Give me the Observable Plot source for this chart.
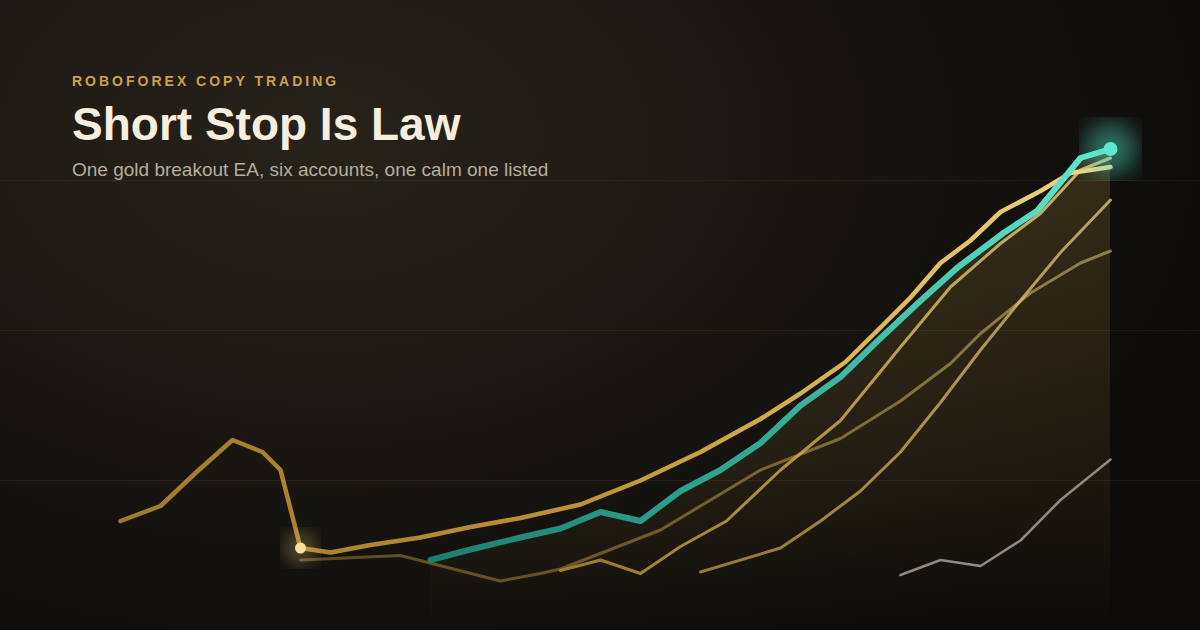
<!DOCTYPE html>
<html>
<head>
<meta charset="utf-8">
<script src="https://cdn.jsdelivr.net/npm/d3@7"></script>
<script src="https://cdn.jsdelivr.net/npm/@observablehq/plot@0.6"></script>
<style>
  html, body { margin: 0; padding: 0; background: #0c0b0a; }
  #wrap {
    position: relative; width: 1200px; height: 630px; overflow: hidden;
    background: radial-gradient(ellipse 950px 620px at 27% 22%, #27221a 0%, #1d1914 40%, #13110e 70%, #0c0b0a 100%);
    font-family: "Liberation Sans", Arial, Helvetica, sans-serif;
  }
  #chart { position: absolute; left: 0; top: 0; }
  .kicker { position: absolute; left: 72px; top: 74px; font-size: 14px; line-height: 14px; font-weight: 700; letter-spacing: 3px; color: #c9a24b; margin: 0; }
  .title { position: absolute; left: 72px; top: 101px; font-size: 46px; line-height: 46px; font-weight: 700; color: #f6efdf; margin: 0; }
  .subtitle { position: absolute; left: 72px; top: 160px; font-size: 19px; line-height: 19px; color: #b5ad9e; margin: 0; }
</style>
</head>
<body>
<div id="wrap">
  <div id="chart"></div>
  <div class="kicker">ROBOFOREX COPY TRADING</div>
  <div class="title">Short Stop Is Law</div>
  <div class="subtitle">One gold breakout EA, six accounts, one calm one listed</div>
</div>
<script>
// Weeks since start (x) and account growth in % (y)
const gridValues = [0, 100, 200];

const mainWeeks  = [0, 4, 7.5, 11.2, 14.2, 16, 18, 21, 25, 30, 35, 40, 46, 52, 58, 64, 68, 72.5, 76, 79, 82, 85, 88, 92, 95, 99];
const mainGrowth = [-27, -17, 5, 27, 19, 7, -45, -48, -43, -38, -31, -25, -16, 0, 19, 41, 58, 79, 102, 122, 145, 160, 179, 193, 205, 209];

const calmWeeks  = [31, 35, 40, 44, 48, 52, 56, 60, 64, 68, 72, 75.7, 79.7, 83.7, 88.3, 91.7, 96, 99];
const calmGrowth = [-53, -46, -38, -32, -21, -27, -7, 7, 25, 50, 69, 93, 118, 142, 165, 180, 215, 221];

const accAWeeks  = [18, 28, 38, 42, 44, 54, 64, 72, 78, 83, 86, 91, 96, 99];
const accAGrowth = [-53, -50, -67, -62, -59, -33, 7, 28, 53, 78, 98, 125, 145, 153];

const accBWeeks  = [44, 48, 52, 56, 60.6, 66, 72, 78, 83, 88, 92, 96, 99];
const accBGrowth = [-60, -53, -62, -44, -27, 7, 40, 89, 129, 158, 178, 207, 215];

const accCWeeks  = [58, 66, 70, 74, 78, 82, 86, 90, 94, 99];
const accCGrowth = [-61, -45, -27, -7, 19, 52, 87, 120, 152, 187];

const accDWeeks  = [78, 82, 86, 90, 94, 99];
const accDGrowth = [-63, -53, -57, -40, -13, 14];

const rows = (xs, ys) => xs.map((x, i) => ({x, y: ys[i]}));
const main = rows(mainWeeks, mainGrowth);
const calm = rows(calmWeeks, calmGrowth);
const accA = rows(accAWeeks, accAGrowth);
const accB = rows(accBWeeks, accBGrowth);
const accC = rows(accCWeeks, accCGrowth);
const accD = rows(accDWeeks, accDGrowth);

const lowPoint = main[6];
const calmEnd = calm[calm.length - 1];

const GLOW_GOLD = "#f3d37b";
const GLOW_TEAL = "#4fe0c5";

const chart = Plot.plot({
  width: 1200,
  height: 630,
  margin: 0,
  x: {domain: [-12, 108], axis: null},
  y: {domain: [-100, 320], axis: null},
  style: {background: "transparent", overflow: "visible"},
  marks: [
    Plot.ruleY(gridValues, {stroke: "#c8a35a", strokeOpacity: 0.09, strokeWidth: 1}),
    Plot.areaY(calm, {x: "x", y1: -100, y2: "y", fill: "url(#areaGrad)"}),
    Plot.line(accD, {x: "x", y: "y", stroke: "#8f897f", strokeWidth: 2.5}),
    Plot.line(accA, {x: "x", y: "y", stroke: "url(#goldGrad)", strokeWidth: 3, strokeOpacity: 0.5}),
    Plot.line(accC, {x: "x", y: "y", stroke: "url(#goldGrad)", strokeWidth: 3, strokeOpacity: 0.7}),
    Plot.line(accB, {x: "x", y: "y", stroke: "url(#goldGrad)", strokeWidth: 3, strokeOpacity: 0.8}),
    Plot.line(main, {x: "x", y: "y", stroke: "url(#goldGrad)", strokeWidth: 4.5}),
    Plot.line(calm, {x: "x", y: "y", stroke: "url(#tealGrad)", strokeWidth: 6}),
    Plot.dot([lowPoint], {x: "x", y: "y", r: 17, fill: GLOW_GOLD, fillOpacity: 0.25}),
    Plot.dot([calmEnd], {x: "x", y: "y", r: 26, fill: GLOW_TEAL, fillOpacity: 0.45}),
    Plot.dot([lowPoint], {x: "x", y: "y", r: 5.5, fill: "#f8e09c"}),
    Plot.dot([calmEnd], {x: "x", y: "y", r: 7, fill: "#5fe6cd"})
  ]
});

const sx = chart.scale("x"), sy = chart.scale("y");
const svg = d3.select(chart.tagName.toLowerCase() === "svg" ? chart : chart.querySelector("svg"));
const defs = svg.insert("defs", ":first-child");

const gold = defs.append("linearGradient").attr("id", "goldGrad").attr("gradientUnits", "userSpaceOnUse")
  .attr("x1", sx.apply(0)).attr("x2", sx.apply(99)).attr("y1", 0).attr("y2", 0);
[[0, "#a07a2b"], [0.45, "#bb9133"], [0.8, "#dfbd5e"], [1, "#f0d689"]].forEach(([o, c]) =>
  gold.append("stop").attr("offset", o).attr("stop-color", c));

const teal = defs.append("linearGradient").attr("id", "tealGrad").attr("gradientUnits", "userSpaceOnUse")
  .attr("x1", sx.apply(31)).attr("x2", sx.apply(99)).attr("y1", 0).attr("y2", 0);
[[0, "#1b7e6f"], [0.5, "#32ab97"], [1, "#63ead1"]].forEach(([o, c]) =>
  teal.append("stop").attr("offset", o).attr("stop-color", c));

const area = defs.append("linearGradient").attr("id", "areaGrad").attr("gradientUnits", "userSpaceOnUse")
  .attr("x1", 0).attr("x2", 0).attr("y1", sy.apply(225)).attr("y2", sy.apply(-100));
[[0, 0.19], [0.65, 0.09], [1, 0]].forEach(([o, a]) =>
  area.append("stop").attr("offset", o).attr("stop-color", "#d6aa48").attr("stop-opacity", a));

defs.append("filter").attr("id", "blurGold").append("feGaussianBlur").attr("stdDeviation", 8);
defs.append("filter").attr("id", "blurTeal").append("feGaussianBlur").attr("stdDeviation", 11);
svg.selectAll("circle").filter(function () {
  const f = (this.getAttribute("fill") || this.parentNode.getAttribute("fill") || "").toLowerCase();
  return f === GLOW_GOLD;
}).attr("filter", "url(#blurGold)");
svg.selectAll("circle").filter(function () {
  const f = (this.getAttribute("fill") || this.parentNode.getAttribute("fill") || "").toLowerCase();
  return f === GLOW_TEAL;
}).attr("filter", "url(#blurTeal)");

document.getElementById("chart").appendChild(chart);
</script>
</body>
</html>
